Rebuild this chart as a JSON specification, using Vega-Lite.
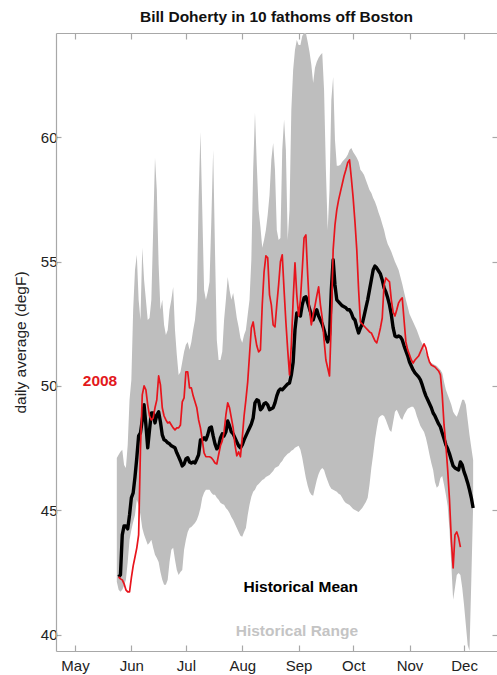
{
  "$schema": "https://vega.github.io/schema/vega-lite/v6.json",
  "width": 441,
  "height": 618,
  "autosize": {"type": "none"},
  "padding": {"left": 56, "top": 33, "right": 0, "bottom": 24},
  "background": "white",
  "title": {"text": "Bill Doherty in 10 fathoms off Boston", "font": "Liberation Sans", "fontSize": 15.5, "fontWeight": "bold", "color": "#111111", "anchor": "middle", "baseline": "alphabetic", "offset": -5},
  "config": {
    "view": {"stroke": null},
    "axis": {"grid": false, "domainColor": "#a8a8a8", "tickColor": "#a8a8a8", "domainWidth": 1.2, "tickWidth": 1.2, "labelFont": "Liberation Sans", "labelFontSize": 15, "labelColor": "#222222", "titleFont": "Liberation Sans", "titleFontSize": 15.5, "titleFontWeight": "normal", "titleColor": "#222222", "labelFlush": false, "labelOverlap": false}
  },
  "datasets": {
    "daily": [
      {"date": "2008-05-24", "lo": 42.12, "hi": 47.10},
      {"date": "2008-05-25", "lo": 41.80, "hi": 47.23, "mean": 42.32, "obs": 42.32},
      {"date": "2008-05-26", "lo": 41.72, "hi": 47.35, "mean": 42.40, "obs": 42.24},
      {"date": "2008-05-27", "lo": 41.80, "hi": 47.43, "mean": 44.01, "obs": 42.20},
      {"date": "2008-05-28", "lo": 41.96, "hi": 46.82, "mean": 44.37, "obs": 42.04},
      {"date": "2008-05-29", "lo": 42.20, "hi": 46.70, "mean": 44.37, "obs": 41.80},
      {"date": "2008-05-30", "lo": 42.92, "hi": 47.63, "mean": 44.25, "obs": 41.72},
      {"date": "2008-05-31", "lo": 43.81, "hi": 49.44, "mean": 44.81, "obs": 41.72},
      {"date": "2008-06-01", "lo": 44.21, "hi": 50.24, "mean": 45.50, "obs": 42.28},
      {"date": "2008-06-02", "lo": 44.53, "hi": 53.06, "mean": 45.70, "obs": 42.76},
      {"date": "2008-06-03", "lo": 44.81, "hi": 54.66, "mean": 46.34, "obs": 43.12},
      {"date": "2008-06-04", "lo": 45.42, "hi": 55.27, "mean": 47.11, "obs": 43.49},
      {"date": "2008-06-05", "lo": 45.22, "hi": 53.46, "mean": 47.99, "obs": 44.01},
      {"date": "2008-06-06", "lo": 44.81, "hi": 52.65, "mean": 48.11, "obs": 47.43},
      {"date": "2008-06-07", "lo": 44.29, "hi": 55.55, "mean": 48.63, "obs": 49.64},
      {"date": "2008-06-08", "lo": 44.01, "hi": 54.26, "mean": 49.24, "obs": 50.00},
      {"date": "2008-06-09", "lo": 43.81, "hi": 53.46, "mean": 48.43, "obs": 49.84},
      {"date": "2008-06-10", "lo": 43.61, "hi": 52.65, "mean": 47.51, "obs": 49.24},
      {"date": "2008-06-11", "lo": 43.69, "hi": 52.73, "mean": 48.23, "obs": 48.79},
      {"date": "2008-06-12", "lo": 43.81, "hi": 53.46, "mean": 48.91, "obs": 48.63},
      {"date": "2008-06-13", "lo": 43.49, "hi": 56.27, "mean": 48.91, "obs": 48.71},
      {"date": "2008-06-14", "lo": 43.21, "hi": 59.17, "mean": 48.51, "obs": 49.12},
      {"date": "2008-06-15", "lo": 43.08, "hi": 57.88, "mean": 48.83, "obs": 49.44},
      {"date": "2008-06-16", "lo": 42.92, "hi": 54.87, "mean": 48.96, "obs": 50.40},
      {"date": "2008-06-17", "lo": 42.52, "hi": 53.06, "mean": 48.55, "obs": 50.04},
      {"date": "2008-06-18", "lo": 42.20, "hi": 53.46, "mean": 48.03, "obs": 49.12},
      {"date": "2008-06-19", "lo": 42.00, "hi": 52.45, "mean": 47.83, "obs": 48.79},
      {"date": "2008-06-20", "lo": 42.00, "hi": 52.05, "mean": 47.79, "obs": 48.63},
      {"date": "2008-06-21", "lo": 42.20, "hi": 52.25, "mean": 47.71, "obs": 48.51},
      {"date": "2008-06-22", "lo": 42.92, "hi": 53.06, "mean": 47.67, "obs": 48.55},
      {"date": "2008-06-23", "lo": 43.41, "hi": 53.46, "mean": 47.59, "obs": 48.43},
      {"date": "2008-06-24", "lo": 43.49, "hi": 53.98, "mean": 47.55, "obs": 48.31},
      {"date": "2008-06-25", "lo": 43.01, "hi": 52.25, "mean": 47.51, "obs": 48.23},
      {"date": "2008-06-26", "lo": 42.60, "hi": 51.25, "mean": 47.31, "obs": 48.31},
      {"date": "2008-06-27", "lo": 42.40, "hi": 50.44, "mean": 47.15, "obs": 48.31},
      {"date": "2008-06-28", "lo": 42.52, "hi": 50.56, "mean": 46.98, "obs": 48.43},
      {"date": "2008-06-29", "lo": 42.60, "hi": 50.96, "mean": 46.78, "obs": 49.36},
      {"date": "2008-06-30", "lo": 43.41, "hi": 51.37, "mean": 46.86, "obs": 49.52},
      {"date": "2008-07-01", "lo": 43.81, "hi": 51.65, "mean": 47.06, "obs": 50.56},
      {"date": "2008-07-02", "lo": 44.13, "hi": 51.77, "mean": 47.11, "obs": 50.56},
      {"date": "2008-07-03", "lo": 44.29, "hi": 51.45, "mean": 46.94, "obs": 49.92},
      {"date": "2008-07-04", "lo": 44.33, "hi": 51.77, "mean": 46.90, "obs": 49.92},
      {"date": "2008-07-05", "lo": 44.41, "hi": 52.25, "mean": 46.94, "obs": 49.60},
      {"date": "2008-07-06", "lo": 44.49, "hi": 52.65, "mean": 46.90, "obs": 49.36},
      {"date": "2008-07-07", "lo": 44.61, "hi": 53.46, "mean": 47.06, "obs": 49.12},
      {"date": "2008-07-08", "lo": 44.81, "hi": 57.48, "mean": 47.23, "obs": 48.63},
      {"date": "2008-07-09", "lo": 45.09, "hi": 60.21, "mean": 47.83, "obs": 48.31},
      {"date": "2008-07-10", "lo": 45.50, "hi": 57.08, "mean": 47.83, "obs": 47.83},
      {"date": "2008-07-11", "lo": 45.70, "hi": 53.86, "mean": 47.91, "obs": 47.31},
      {"date": "2008-07-12", "lo": 45.82, "hi": 53.46, "mean": 47.83, "obs": 47.15},
      {"date": "2008-07-13", "lo": 45.82, "hi": 53.78, "mean": 48.03, "obs": 47.15},
      {"date": "2008-07-14", "lo": 45.82, "hi": 54.18, "mean": 48.31, "obs": 47.15},
      {"date": "2008-07-15", "lo": 45.70, "hi": 56.67, "mean": 48.35, "obs": 47.11},
      {"date": "2008-07-16", "lo": 45.62, "hi": 59.49, "mean": 47.99, "obs": 47.02},
      {"date": "2008-07-17", "lo": 45.62, "hi": 55.47, "mean": 47.67, "obs": 46.90},
      {"date": "2008-07-18", "lo": 45.50, "hi": 51.85, "mean": 47.47, "obs": 46.86},
      {"date": "2008-07-19", "lo": 45.42, "hi": 51.04, "mean": 47.55, "obs": 47.23},
      {"date": "2008-07-20", "lo": 45.30, "hi": 51.04, "mean": 47.91, "obs": 47.59},
      {"date": "2008-07-21", "lo": 45.25, "hi": 51.37, "mean": 48.07, "obs": 47.79},
      {"date": "2008-07-22", "lo": 45.22, "hi": 52.65, "mean": 47.99, "obs": 48.15},
      {"date": "2008-07-23", "lo": 45.09, "hi": 53.46, "mean": 48.15, "obs": 48.83},
      {"date": "2008-07-24", "lo": 45.01, "hi": 54.38, "mean": 48.59, "obs": 49.32},
      {"date": "2008-07-25", "lo": 44.89, "hi": 53.86, "mean": 48.39, "obs": 49.12},
      {"date": "2008-07-26", "lo": 44.73, "hi": 53.46, "mean": 48.15, "obs": 48.71},
      {"date": "2008-07-27", "lo": 44.61, "hi": 53.74, "mean": 48.07, "obs": 48.31},
      {"date": "2008-07-28", "lo": 44.45, "hi": 53.26, "mean": 47.91, "obs": 47.63},
      {"date": "2008-07-29", "lo": 44.29, "hi": 52.73, "mean": 47.75, "obs": 47.19},
      {"date": "2008-07-30", "lo": 44.13, "hi": 52.37, "mean": 47.59, "obs": 47.35},
      {"date": "2008-07-31", "lo": 43.97, "hi": 51.93, "mean": 47.51, "obs": 47.15},
      {"date": "2008-08-01", "lo": 43.93, "hi": 51.73, "mean": 47.63, "obs": 47.91},
      {"date": "2008-08-02", "lo": 44.13, "hi": 52.05, "mean": 47.83, "obs": 48.79},
      {"date": "2008-08-03", "lo": 44.29, "hi": 52.25, "mean": 47.99, "obs": 49.44},
      {"date": "2008-08-04", "lo": 44.81, "hi": 52.86, "mean": 48.15, "obs": 50.16},
      {"date": "2008-08-05", "lo": 45.22, "hi": 53.46, "mean": 48.31, "obs": 51.25},
      {"date": "2008-08-06", "lo": 45.54, "hi": 55.07, "mean": 48.47, "obs": 52.33},
      {"date": "2008-08-07", "lo": 45.74, "hi": 58.69, "mean": 48.71, "obs": 52.57},
      {"date": "2008-08-08", "lo": 45.82, "hi": 60.98, "mean": 49.32, "obs": 52.05},
      {"date": "2008-08-09", "lo": 45.98, "hi": 58.89, "mean": 49.44, "obs": 51.61},
      {"date": "2008-08-10", "lo": 46.06, "hi": 57.08, "mean": 49.40, "obs": 51.37},
      {"date": "2008-08-11", "lo": 46.14, "hi": 56.39, "mean": 49.04, "obs": 51.45},
      {"date": "2008-08-12", "lo": 46.22, "hi": 55.55, "mean": 49.12, "obs": 53.26},
      {"date": "2008-08-13", "lo": 46.26, "hi": 55.87, "mean": 49.28, "obs": 54.58},
      {"date": "2008-08-14", "lo": 46.34, "hi": 56.27, "mean": 49.32, "obs": 55.23},
      {"date": "2008-08-15", "lo": 46.38, "hi": 56.88, "mean": 49.24, "obs": 55.15},
      {"date": "2008-08-16", "lo": 46.42, "hi": 57.68, "mean": 49.04, "obs": 53.66},
      {"date": "2008-08-17", "lo": 46.50, "hi": 59.09, "mean": 49.08, "obs": 53.26},
      {"date": "2008-08-18", "lo": 46.58, "hi": 59.77, "mean": 49.12, "obs": 52.45},
      {"date": "2008-08-19", "lo": 46.70, "hi": 58.69, "mean": 49.32, "obs": 52.37},
      {"date": "2008-08-20", "lo": 46.74, "hi": 56.27, "mean": 49.60, "obs": 53.26},
      {"date": "2008-08-21", "lo": 46.78, "hi": 55.87, "mean": 49.80, "obs": 54.06},
      {"date": "2008-08-22", "lo": 46.90, "hi": 55.95, "mean": 49.88, "obs": 54.99},
      {"date": "2008-08-23", "lo": 46.98, "hi": 59.49, "mean": 49.84, "obs": 55.27},
      {"date": "2008-08-24", "lo": 47.11, "hi": 60.70, "mean": 49.92, "obs": 53.86},
      {"date": "2008-08-25", "lo": 47.19, "hi": 59.49, "mean": 50.00, "obs": 52.57},
      {"date": "2008-08-26", "lo": 47.27, "hi": 55.87, "mean": 50.08, "obs": 51.45},
      {"date": "2008-08-27", "lo": 47.31, "hi": 57.08, "mean": 50.12, "obs": 50.44},
      {"date": "2008-08-28", "lo": 47.39, "hi": 61.10, "mean": 50.44, "obs": 51.65},
      {"date": "2008-08-29", "lo": 47.43, "hi": 62.71, "mean": 50.96, "obs": 53.46},
      {"date": "2008-08-30", "lo": 47.51, "hi": 63.51, "mean": 52.25, "obs": 54.95},
      {"date": "2008-08-31", "lo": 47.55, "hi": 63.91, "mean": 52.93, "obs": 53.66},
      {"date": "2008-09-01", "lo": 47.59, "hi": 63.71, "mean": 52.89, "obs": 52.81},
      {"date": "2008-09-02", "lo": 47.43, "hi": 63.71, "mean": 52.81, "obs": 53.46},
      {"date": "2008-09-03", "lo": 47.11, "hi": 64.07, "mean": 53.26, "obs": 54.66},
      {"date": "2008-09-04", "lo": 46.70, "hi": 64.19, "mean": 53.54, "obs": 55.95},
      {"date": "2008-09-05", "lo": 46.30, "hi": 64.19, "mean": 53.58, "obs": 56.07},
      {"date": "2008-09-06", "lo": 45.98, "hi": 63.83, "mean": 53.34, "obs": 54.46},
      {"date": "2008-09-07", "lo": 45.74, "hi": 63.43, "mean": 53.10, "obs": 53.06},
      {"date": "2008-09-08", "lo": 45.62, "hi": 62.91, "mean": 52.86, "obs": 52.45},
      {"date": "2008-09-09", "lo": 45.58, "hi": 62.18, "mean": 52.65, "obs": 52.86},
      {"date": "2008-09-10", "lo": 45.90, "hi": 62.79, "mean": 52.89, "obs": 53.22},
      {"date": "2008-09-11", "lo": 46.22, "hi": 63.03, "mean": 53.06, "obs": 53.62},
      {"date": "2008-09-12", "lo": 46.46, "hi": 63.19, "mean": 52.81, "obs": 53.98},
      {"date": "2008-09-13", "lo": 46.62, "hi": 63.31, "mean": 52.65, "obs": 53.26},
      {"date": "2008-09-14", "lo": 46.70, "hi": 63.39, "mean": 52.49, "obs": 52.73},
      {"date": "2008-09-15", "lo": 46.62, "hi": 61.90, "mean": 52.25, "obs": 51.85},
      {"date": "2008-09-16", "lo": 46.38, "hi": 58.69, "mean": 51.97, "obs": 51.04},
      {"date": "2008-09-17", "lo": 46.18, "hi": 56.27, "mean": 51.77, "obs": 50.72},
      {"date": "2008-09-18", "lo": 45.98, "hi": 57.88, "mean": 52.05, "obs": 50.40},
      {"date": "2008-09-19", "lo": 45.86, "hi": 61.50, "mean": 53.86, "obs": 52.65},
      {"date": "2008-09-20", "lo": 45.82, "hi": 62.42, "mean": 55.07, "obs": 55.47},
      {"date": "2008-09-21", "lo": 45.78, "hi": 59.89, "mean": 54.06, "obs": 56.47},
      {"date": "2008-09-22", "lo": 45.74, "hi": 58.85, "mean": 53.46, "obs": 57.08},
      {"date": "2008-09-23", "lo": 45.66, "hi": 58.85, "mean": 53.38, "obs": 57.48},
      {"date": "2008-09-24", "lo": 45.62, "hi": 58.89, "mean": 53.30, "obs": 57.80},
      {"date": "2008-09-25", "lo": 45.50, "hi": 59.01, "mean": 53.22, "obs": 58.12},
      {"date": "2008-09-26", "lo": 45.37, "hi": 59.09, "mean": 53.18, "obs": 58.44},
      {"date": "2008-09-27", "lo": 45.29, "hi": 59.17, "mean": 53.14, "obs": 58.69},
      {"date": "2008-09-28", "lo": 45.25, "hi": 59.29, "mean": 53.06, "obs": 58.97},
      {"date": "2008-09-29", "lo": 45.21, "hi": 59.49, "mean": 53.06, "obs": 59.09},
      {"date": "2008-09-30", "lo": 45.13, "hi": 59.57, "mean": 52.93, "obs": 58.36},
      {"date": "2008-10-01", "lo": 45.05, "hi": 59.41, "mean": 52.73, "obs": 57.56},
      {"date": "2008-10-02", "lo": 45.01, "hi": 59.29, "mean": 52.65, "obs": 56.59},
      {"date": "2008-10-03", "lo": 44.97, "hi": 59.17, "mean": 52.37, "obs": 55.47},
      {"date": "2008-10-04", "lo": 44.93, "hi": 59.01, "mean": 52.13, "obs": 53.86},
      {"date": "2008-10-05", "lo": 45.01, "hi": 58.69, "mean": 52.33, "obs": 52.57},
      {"date": "2008-10-06", "lo": 45.09, "hi": 58.60, "mean": 52.49, "obs": 52.49},
      {"date": "2008-10-07", "lo": 45.21, "hi": 58.48, "mean": 52.81, "obs": 52.41},
      {"date": "2008-10-08", "lo": 45.33, "hi": 58.28, "mean": 53.14, "obs": 52.33},
      {"date": "2008-10-09", "lo": 45.50, "hi": 58.08, "mean": 53.46, "obs": 52.25},
      {"date": "2008-10-10", "lo": 46.02, "hi": 57.88, "mean": 53.86, "obs": 52.17},
      {"date": "2008-10-11", "lo": 46.70, "hi": 57.76, "mean": 54.26, "obs": 52.13},
      {"date": "2008-10-12", "lo": 47.23, "hi": 57.56, "mean": 54.66, "obs": 51.97},
      {"date": "2008-10-13", "lo": 47.83, "hi": 57.40, "mean": 54.82, "obs": 51.81},
      {"date": "2008-10-14", "lo": 48.31, "hi": 57.20, "mean": 54.74, "obs": 51.73},
      {"date": "2008-10-15", "lo": 48.71, "hi": 56.96, "mean": 54.62, "obs": 52.01},
      {"date": "2008-10-16", "lo": 48.79, "hi": 56.76, "mean": 54.50, "obs": 52.33},
      {"date": "2008-10-17", "lo": 48.83, "hi": 56.51, "mean": 54.26, "obs": 52.73},
      {"date": "2008-10-18", "lo": 48.79, "hi": 56.27, "mean": 53.94, "obs": 54.06},
      {"date": "2008-10-19", "lo": 48.63, "hi": 55.95, "mean": 53.78, "obs": 54.34},
      {"date": "2008-10-20", "lo": 48.43, "hi": 55.71, "mean": 53.54, "obs": 54.26},
      {"date": "2008-10-21", "lo": 48.23, "hi": 55.55, "mean": 53.26, "obs": 54.18},
      {"date": "2008-10-22", "lo": 48.15, "hi": 55.39, "mean": 52.86, "obs": 53.46},
      {"date": "2008-10-23", "lo": 48.55, "hi": 55.19, "mean": 52.33, "obs": 52.97},
      {"date": "2008-10-24", "lo": 48.96, "hi": 54.99, "mean": 52.01, "obs": 52.81},
      {"date": "2008-10-25", "lo": 49.04, "hi": 54.83, "mean": 51.97, "obs": 53.06},
      {"date": "2008-10-26", "lo": 48.88, "hi": 54.66, "mean": 52.01, "obs": 53.34},
      {"date": "2008-10-27", "lo": 48.71, "hi": 54.38, "mean": 51.97, "obs": 53.46},
      {"date": "2008-10-28", "lo": 48.63, "hi": 54.10, "mean": 51.85, "obs": 53.54},
      {"date": "2008-10-29", "lo": 48.83, "hi": 53.78, "mean": 51.61, "obs": 52.65},
      {"date": "2008-10-30", "lo": 48.96, "hi": 53.46, "mean": 51.41, "obs": 51.77},
      {"date": "2008-10-31", "lo": 49.08, "hi": 53.18, "mean": 51.21, "obs": 51.45},
      {"date": "2008-11-01", "lo": 49.12, "hi": 52.89, "mean": 50.96, "obs": 51.25},
      {"date": "2008-11-02", "lo": 49.16, "hi": 52.73, "mean": 50.80, "obs": 51.04},
      {"date": "2008-11-03", "lo": 49.16, "hi": 52.57, "mean": 50.64, "obs": 50.92},
      {"date": "2008-11-04", "lo": 49.04, "hi": 52.41, "mean": 50.52, "obs": 51.04},
      {"date": "2008-11-05", "lo": 48.79, "hi": 52.25, "mean": 50.44, "obs": 51.12},
      {"date": "2008-11-06", "lo": 48.59, "hi": 52.05, "mean": 50.36, "obs": 51.20},
      {"date": "2008-11-07", "lo": 48.39, "hi": 51.85, "mean": 50.24, "obs": 51.37},
      {"date": "2008-11-08", "lo": 48.27, "hi": 51.69, "mean": 50.04, "obs": 51.53},
      {"date": "2008-11-09", "lo": 48.15, "hi": 51.53, "mean": 49.80, "obs": 51.69},
      {"date": "2008-11-10", "lo": 47.91, "hi": 51.33, "mean": 49.60, "obs": 51.53},
      {"date": "2008-11-11", "lo": 47.59, "hi": 51.17, "mean": 49.44, "obs": 51.20},
      {"date": "2008-11-12", "lo": 47.23, "hi": 51.00, "mean": 49.28, "obs": 50.96},
      {"date": "2008-11-13", "lo": 46.90, "hi": 50.92, "mean": 49.12, "obs": 50.84},
      {"date": "2008-11-14", "lo": 46.62, "hi": 50.88, "mean": 48.91, "obs": 50.80},
      {"date": "2008-11-15", "lo": 46.14, "hi": 50.84, "mean": 48.79, "obs": 50.76},
      {"date": "2008-11-16", "lo": 45.90, "hi": 50.80, "mean": 48.63, "obs": 50.68},
      {"date": "2008-11-17", "lo": 45.98, "hi": 50.72, "mean": 48.47, "obs": 50.60},
      {"date": "2008-11-18", "lo": 46.30, "hi": 50.64, "mean": 48.35, "obs": 50.44},
      {"date": "2008-11-19", "lo": 46.38, "hi": 50.52, "mean": 48.11, "obs": 49.64},
      {"date": "2008-11-20", "lo": 46.02, "hi": 50.16, "mean": 47.87, "obs": 48.43},
      {"date": "2008-11-21", "lo": 45.62, "hi": 49.84, "mean": 47.63, "obs": 47.63},
      {"date": "2008-11-22", "lo": 45.17, "hi": 49.64, "mean": 47.47, "obs": 46.62},
      {"date": "2008-11-23", "lo": 44.21, "hi": 49.44, "mean": 47.27, "obs": 45.42},
      {"date": "2008-11-24", "lo": 42.80, "hi": 49.24, "mean": 47.02, "obs": 43.81},
      {"date": "2008-11-25", "lo": 41.40, "hi": 48.96, "mean": 46.78, "obs": 42.68},
      {"date": "2008-11-26", "lo": 41.88, "hi": 48.84, "mean": 46.70, "obs": 44.01},
      {"date": "2008-11-27", "lo": 42.40, "hi": 48.76, "mean": 46.66, "obs": 44.13},
      {"date": "2008-11-28", "lo": 42.48, "hi": 48.96, "mean": 46.62, "obs": 43.89},
      {"date": "2008-11-29", "lo": 42.40, "hi": 49.20, "mean": 46.94, "obs": 43.52},
      {"date": "2008-11-30", "lo": 41.88, "hi": 49.44, "mean": 46.82},
      {"date": "2008-12-01", "lo": 41.19, "hi": 49.44, "mean": 46.54},
      {"date": "2008-12-02", "lo": 40.39, "hi": 49.24, "mean": 46.34},
      {"date": "2008-12-03", "lo": 39.58, "hi": 48.63, "mean": 46.10},
      {"date": "2008-12-04", "lo": 39.35, "hi": 48.03, "mean": 45.82},
      {"date": "2008-12-05", "lo": 42.20, "hi": 47.51, "mean": 45.50},
      {"date": "2008-12-06", "lo": 45.21, "hi": 47.02, "mean": 45.09}
    ],
    "notes": [
      {"date": "2008-05-14T18:00:00Z", "t": 50.0, "label": "2008"},
      {"date": "2008-09-02T05:00:00Z", "t": 41.72, "label": "Historical Mean"},
      {"date": "2008-08-31T01:00:00Z", "t": 39.95, "label": "Historical Range"}
    ]
  },
  "layer": [
    {
      "data": {"name": "daily"},
      "mark": {"type": "area", "color": "#bebebe", "clip": true},
      "encoding": {
        "x": {"field": "date", "type": "temporal",
          "scale": {"type": "utc", "domain": [{"year": 2008, "month": 4, "date": 20, "hours": 13, "minutes": 12, "utc": true}, {"year": 2008, "month": 12, "date": 19, "hours": 3, "utc": true}]},
          "axis": {"orient": "bottom", "title": null, "labelExpr": "utcFormat(datum.value, '%b')", "tickSize": -6, "labelPadding": 13,
            "values": [{"year": 2008, "month": 5, "date": 1, "utc": true}, {"year": 2008, "month": 6, "date": 1, "utc": true}, {"year": 2008, "month": 7, "date": 1, "utc": true}, {"year": 2008, "month": 8, "date": 1, "utc": true}, {"year": 2008, "month": 9, "date": 1, "utc": true}, {"year": 2008, "month": 10, "date": 1, "utc": true}, {"year": 2008, "month": 11, "date": 1, "utc": true}, {"year": 2008, "month": 12, "date": 1, "utc": true}]}},
        "y": {"field": "lo", "type": "quantitative",
          "scale": {"domain": [39.34, 64.19], "nice": false, "zero": false},
          "axis": {"orient": "left", "title": "daily average (degF)", "values": [40, 45, 50, 55, 60], "tickSize": -5, "labelPadding": 4, "titlePadding": 12}},
        "y2": {"field": "hi"}
      }
    },
    {
      "data": {"name": "daily"},
      "mark": {"type": "line", "color": "#000000", "strokeWidth": 3.4, "strokeJoin": "round", "clip": true},
      "encoding": {
        "x": {"field": "date", "type": "temporal",
          "axis": {"orient": "top", "title": null, "labels": false, "tickSize": -6,
            "values": [{"year": 2008, "month": 5, "date": 1, "utc": true}, {"year": 2008, "month": 6, "date": 1, "utc": true}, {"year": 2008, "month": 7, "date": 1, "utc": true}, {"year": 2008, "month": 8, "date": 1, "utc": true}, {"year": 2008, "month": 9, "date": 1, "utc": true}, {"year": 2008, "month": 10, "date": 1, "utc": true}, {"year": 2008, "month": 11, "date": 1, "utc": true}, {"year": 2008, "month": 12, "date": 1, "utc": true}]}},
        "y": {"field": "mean", "type": "quantitative",
          "axis": {"orient": "right", "title": null, "labels": false, "domain": false, "tickSize": -5, "values": [40, 45, 50, 55, 60]}}
      }
    },
    {
      "data": {"name": "daily"},
      "mark": {"type": "line", "color": "#e8141c", "strokeWidth": 1.7, "strokeJoin": "round", "clip": true},
      "encoding": {
        "x": {"field": "date", "type": "temporal", "axis": null},
        "y": {"field": "obs", "type": "quantitative", "axis": null}
      }
    },
    {
      "data": {"name": "notes"},
      "mark": {"type": "text", "font": "Liberation Sans", "fontSize": 15.5, "fontWeight": "bold", "align": "center", "baseline": "alphabetic"},
      "encoding": {
        "x": {"field": "date", "type": "temporal", "axis": null},
        "y": {"field": "t", "type": "quantitative", "axis": null},
        "text": {"field": "label"},
        "color": {"field": "label", "type": "nominal", "legend": null,
          "scale": {"domain": ["2008", "Historical Mean", "Historical Range"], "range": ["#e3191c", "#000000", "#c4c4c4"]}}
      }
    }
  ],
  "resolve": {"axis": {"x": "independent", "y": "independent"}}
}
